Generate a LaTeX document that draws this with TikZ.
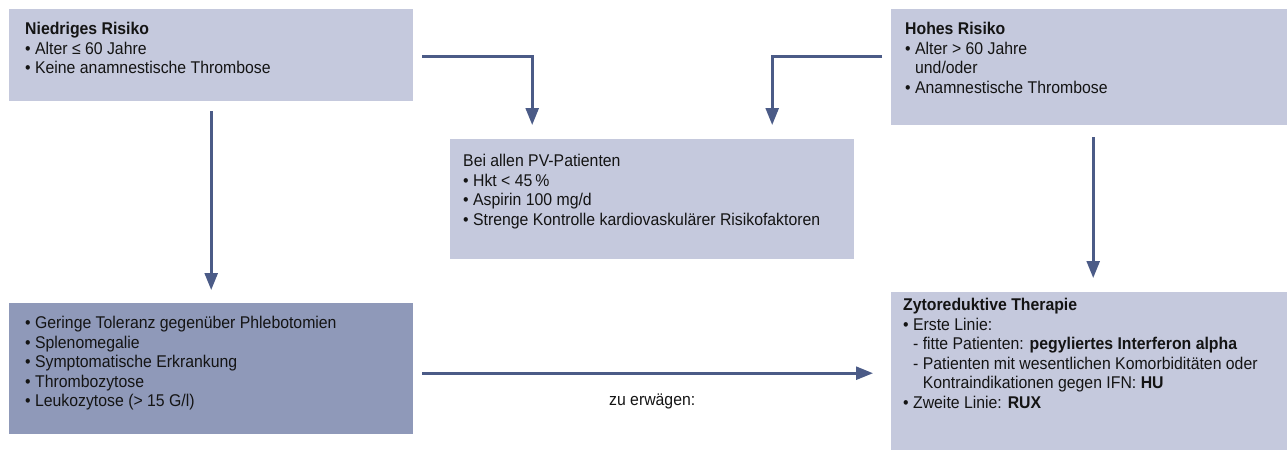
\documentclass[tikz,border=0pt]{standalone}
\usepackage{fontspec}
\setmainfont{Liberation Sans}[FakeStretch=0.93]
\usetikzlibrary{arrows.meta}
\definecolor{boxlight}{HTML}{C5C9DD}
\definecolor{boxdark}{HTML}{8F99B9}
\definecolor{arrowc}{HTML}{4B5B87}
\definecolor{txt}{HTML}{141414}
\begin{document}
\begin{tikzpicture}[x=1pt,y=-1pt,
  lightbox/.style={fill=boxlight, draw=none, inner sep=0pt, anchor=north west},
  darkbox/.style={fill=boxdark, draw=none, inner sep=0pt, anchor=north west},
  txtnode/.style={inner sep=0pt, anchor=north west, align=left, text=txt, font=\fontsize{17}{19.5}\selectfont},
  flowarrow/.style={draw=arrowc, line width=2.6pt, line join=miter, -{Triangle[length=17pt,width=13pt]}},
  lbl/.style={inner sep=0pt, text=txt, font=\fontsize{17}{19}\selectfont}
]
\useasboundingbox (0,0) rectangle (1287,450);
% boxes
\node[lightbox, minimum width=404pt, minimum height=92pt] (A) at (9,9) {};
\node[lightbox, minimum width=396pt, minimum height=116pt] (B) at (891,9) {};
\node[lightbox, minimum width=404pt, minimum height=120pt] (C) at (450,139) {};
\node[darkbox, minimum width=404pt, minimum height=131pt] (D) at (9,303) {};
\node[lightbox, minimum width=396pt, minimum height=158pt] (E) at (891,292) {};
% texts
\node[txtnode] (tA) at (25,22) {\textbf{Niedriges Risiko}\\
• Alter ≤ 60 Jahre\\
• Keine anamnestische Thrombose};
\node[txtnode] (tB) at (905,22) {\textbf{Hohes Risiko}\\
• Alter > 60 Jahre\\
\phantom{• }und/oder\\
• Anamnestische Thrombose};
\node[txtnode] (tC) at (463,154) {Bei allen PV-Patienten\\
• Hkt < 45\,\%\\
• Aspirin 100 mg/d\\
• Strenge Kontrolle kardiovaskulärer Risikofaktoren};
\node[txtnode] (tD) at (25,316) {• Geringe Toleranz gegenüber Phlebotomien\\
• Splenomegalie\\
• Symptomatische Erkrankung\\
• Thrombozytose\\
• Leukozytose (> 15 G/l)};
\node[txtnode] (tE) at (903,298) {\textbf{Zytoreduktive Therapie}\\
• Erste Linie:\\
\phantom{• }- fitte Patienten: \textbf{pegyliertes Interferon alpha}\\
\phantom{• }- Patienten mit wesentlichen Komorbiditäten oder\\
\phantom{• - }Kontraindikationen gegen IFN: \textbf{HU}\\
• Zweite Linie: \textbf{RUX}};
% connectors
\draw[flowarrow, shorten <=9pt, shorten >=14pt] ([yshift=-1pt]A.east) -| ([xshift=-120pt]C.north);
\draw[flowarrow, shorten <=9pt, shorten >=14pt] ([yshift=11pt]B.west) -| ([xshift=120pt]C.north);
\draw[flowarrow, shorten <=10pt, shorten >=13pt] (A.south) -- (D.north);
\draw[flowarrow, shorten <=12pt, shorten >=14pt] ([xshift=4pt]B.south) -- ([xshift=4pt]E.north);
\draw[flowarrow, shorten <=9pt, shorten >=18pt] ([yshift=-4.5pt]D.east) -- ([yshift=-2pt]E.west)
  node[lbl, midway, below=19pt] (lz) {zu erwägen:};
\end{tikzpicture}
\end{document}
